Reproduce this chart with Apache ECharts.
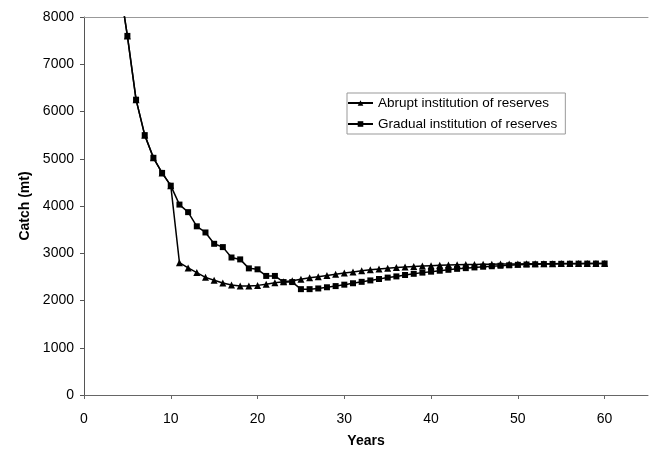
<!DOCTYPE html>
<html>
<head>
<meta charset="utf-8">
<script src="https://cdn.jsdelivr.net/npm/echarts@6/dist/echarts.min.js"></script>
<style>html,body{margin:0;padding:0;background:#fff}#c{width:651px;height:453px}</style>
</head>
<body>
<div id="c"></div>
<script>
var years = [4,5,6,7,8,9,10,11,12,13,14,15,16,17,18,19,20,21,22,23,24,25,26,27,28,29,30,31,32,33,34,35,36,37,38,39,40,41,42,43,44,45,46,47,48,49,50,51,52,53,54,55,56,57,58,59,60];
var abrupt = [8800,7600,6250,5500,5020,4700,4430,
  2800,2690,2590,2490,2430,2370,2330,2305,2305,2320,2345,2375,2395,2420,2450,2480,2505,2530,2555,2580,2605,2630,2650,2665,2685,2700,2710,2720,2730,2738,2745,2750,2755,2760,2763,2766,2769,2771,2773,2775,2777,2778,2779,2780,2781,2782,2782,2783,2783,2784];
var gradual = [8800,7600,6250,5500,5020,4700,4430,
  4030,3870,3570,3440,3200,3130,2910,2870,2680,2660,2520,2520,2390,2390,2240,2240,2255,2280,2305,2335,2365,2395,2425,2455,2485,2510,2540,2565,2590,2610,2630,2650,2670,2685,2700,2715,2725,2735,2745,2755,2762,2767,2771,2774,2776,2778,2780,2781,2782,2783];
var seriesNames = ['Abrupt institution of reserves','Gradual institution of reserves'];

function pairs(xs, ys){ return xs.map(function(x,i){return [x, ys[i]];}); }

var chart = echarts.init(document.getElementById('c'));
var font = 'Liberation Sans, Arial, sans-serif';
chart.setOption({
  animation:false,
  textStyle:{fontFamily:font},
  grid:{left:84, top:17, right:3, bottom:56},
  legend:{
    orient:'vertical', left:347, top:93,
    data:seriesNames,
    itemWidth:25, itemHeight:7, itemGap:7,
    padding:[3,8,3,0],
    borderColor:'#999', borderWidth:1,
    textStyle:{fontSize:13.5, color:'#000', fontFamily:font}
  },
  xAxis:[{
    type:'value', min:0, max:65, interval:10,
    name:'Years', nameLocation:'middle', nameGap:39,
    nameTextStyle:{fontSize:14, fontWeight:'bold', color:'#000'},
    axisLine:{lineStyle:{color:'#666'}},
    axisTick:{lineStyle:{color:'#666'}, length:4},
    axisLabel:{fontSize:14, color:'#000', showMaxLabel:false, margin:17},
    splitLine:{show:false}
  },{
    type:'value', min:0, max:65, position:'top',
    axisLine:{show:true, lineStyle:{color:'#999'}},
    axisTick:{show:false}, axisLabel:{show:false}, splitLine:{show:false}
  }],
  yAxis:{
    type:'value', min:0, max:8000, interval:1000,
    name:'Catch (mt)', nameLocation:'middle', nameGap:41, nameRotate:90,
    nameTextStyle:{fontSize:14, fontWeight:'bold', color:'#000'},
    axisLine:{show:true, lineStyle:{color:'#555'}},
    axisTick:{show:true, lineStyle:{color:'#555'}, length:4},
    axisLabel:{fontSize:14, color:'#000', margin:10, formatter:function(v){return String(v);}},
    splitLine:{show:false}
  },
  series:[{
    name:seriesNames[0], type:'line', data:pairs(years, abrupt),
    symbol:'triangle', symbolSize:7, showAllSymbol:true,
    lineStyle:{color:'#000', width:1.5}, itemStyle:{color:'#000'}
  },{
    name:seriesNames[1], type:'line', data:pairs(years, gradual),
    symbol:'rect', symbolSize:6, showAllSymbol:true,
    lineStyle:{color:'#000', width:1.5}, itemStyle:{color:'#000'}
  }]
});
</script>
</body>
</html>
